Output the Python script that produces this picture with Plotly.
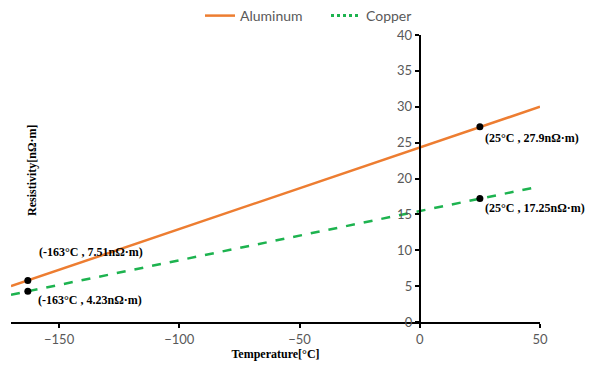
import plotly.graph_objects as go

# Data
line_temps = [-170, 50]
al_line = [5.0, 30.0]
cu_line = [3.8, 18.9]

point_temps = [-163, 25]
al_points = [5.8, 27.2]
cu_points = [4.3, 17.2]

label_texts = ["(-163°C , 7.51nΩ·m)", "(-163°C , 4.23nΩ·m)",
               "(25°C , 27.9nΩ·m)", "(25°C , 17.25nΩ·m)"]
label_x = [-159, -159.5, 26.5, 26.5]
label_y = [9.8, 3.1, 25.6, 15.9]

x_ticks = [-150, -100, -50, 0, 50]
y_ticks = [0, 5, 10, 15, 20, 25, 30, 35, 40]

ORANGE = "#ED7D31"
GREEN = "#1DB34F"

fig = go.Figure()
fig.add_trace(go.Scatter(x=line_temps, y=al_line, mode="lines", name="Aluminum",
                         line=dict(color=ORANGE, width=2.5)))
fig.add_trace(go.Scatter(x=line_temps, y=cu_line, mode="lines", name="Copper",
                         showlegend=False, legendgroup="cu",
                         line=dict(color=GREEN, width=2.5, dash="dash")))
# legend entry for Copper drawn with a dotted sample, as in the reference
fig.add_trace(go.Scatter(x=[None], y=[None], mode="lines", name="Copper",
                         legendgroup="cu",
                         line=dict(color=GREEN, width=3, dash="dot")))
fig.add_trace(go.Scatter(x=point_temps, y=al_points, mode="markers", showlegend=False,
                         marker=dict(color="black", size=7)))
fig.add_trace(go.Scatter(x=point_temps, y=cu_points, mode="markers", showlegend=False,
                         marker=dict(color="black", size=7)))

serif = dict(family="Liberation Serif", size=12, color="black")
for t, x, y in zip(label_texts, label_x, label_y):
    fig.add_annotation(x=x, y=y, text=f"<b>{t}</b>", showarrow=False,
                       xanchor="left", yanchor="middle", font=serif)

xmin, xmax = -170, 50
fig.update_layout(
    width=603, height=365,
    margin=dict(l=11, r=63, t=35, b=43, autoexpand=False),
    plot_bgcolor="white", paper_bgcolor="white",
    legend=dict(orientation="h", x=(200 - 11) / 529, xanchor="left", y=1.0, yanchor="top",
                yref="container", font=dict(family="Lato", size=14, color="#595959"),
                bgcolor="rgba(0,0,0,0)",
                tracegroupgap=0, entrywidth=81, entrywidthmode="pixels"),
    xaxis=dict(range=[xmin, xmax], tickvals=x_ticks, showgrid=False, zeroline=False,
               showline=True, linecolor="black", linewidth=2, ticks="outside",
               ticklen=4, tickcolor="black", tickwidth=1.5,
               tickfont=dict(family="Lato", size=13, color="#595959"),
               title=dict(text="<b>Temperature[°C]</b>",
                          font=dict(family="Liberation Serif", size=12, color="black"),
                          standoff=2)),
    yaxis=dict(range=[0, 40], tickvals=y_ticks, showgrid=False, zeroline=False,
               showline=True, linecolor="black", linewidth=2, ticks="outside",
               ticklen=4, tickcolor="black", tickwidth=1.5,
               anchor="free", position=(0 - xmin) / (xmax - xmin),
               tickfont=dict(family="Lato", size=13, color="#595959")),
)
fig.add_annotation(xref="x domain", yref="y domain",
                   x=(32 - 11) / 529, y=(322 - 170) / 287,
                   xanchor="center", yanchor="middle",
                   text="<b>Resistivity[nΩ·m]</b>",
                   showarrow=False, textangle=-90, font=serif)

fig.write_html("out.html")
